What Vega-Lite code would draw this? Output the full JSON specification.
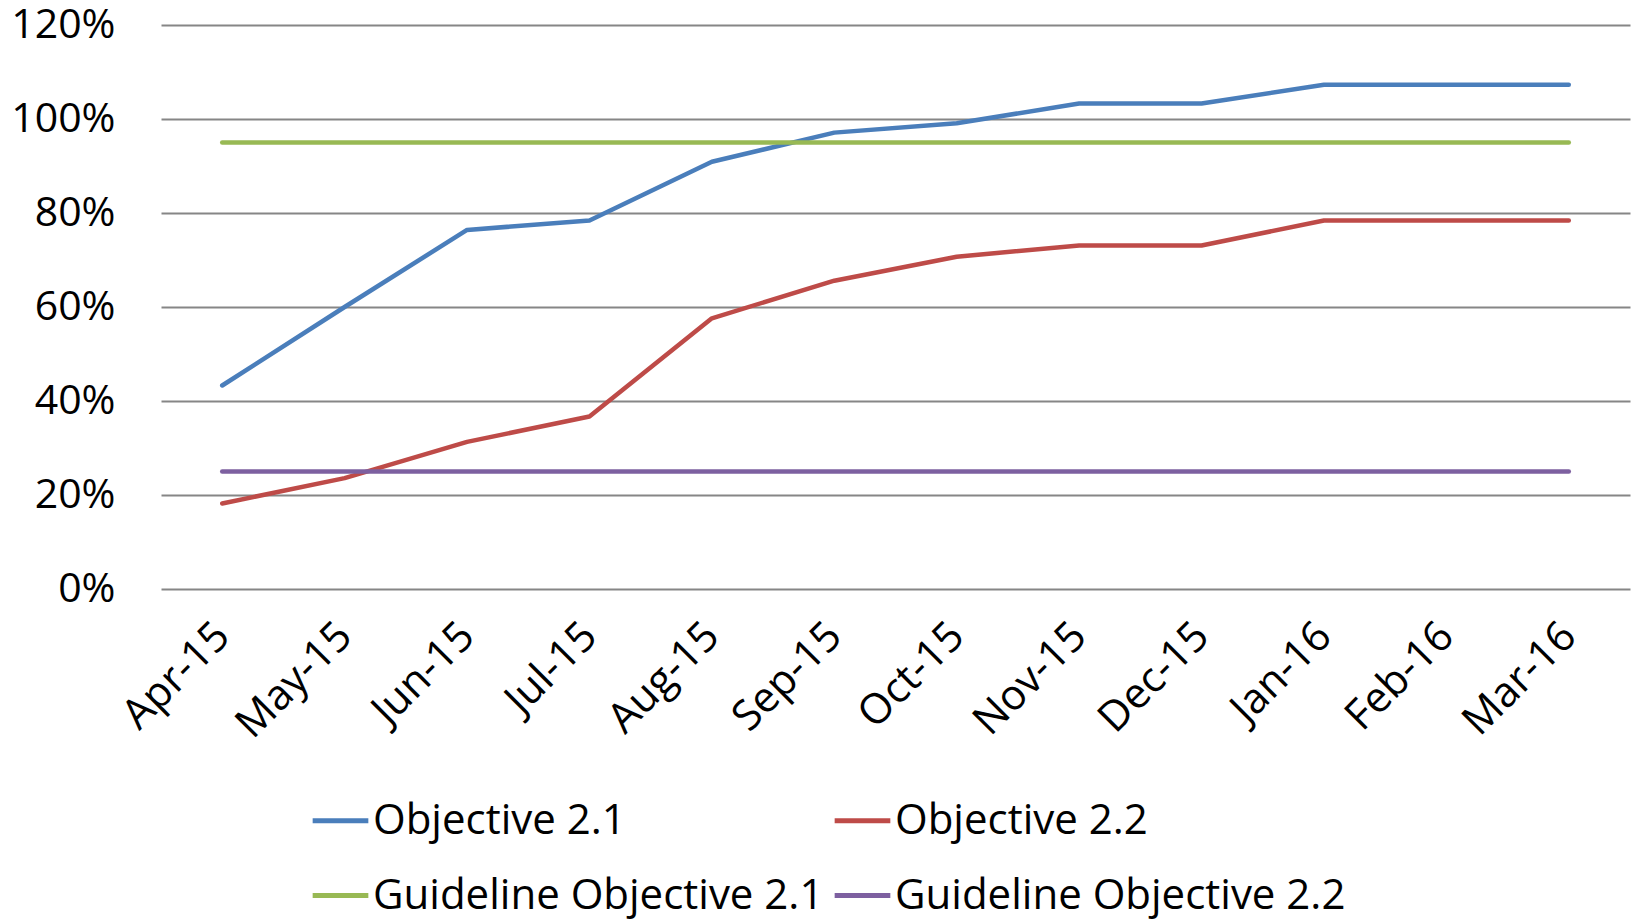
{
  "$schema": "https://vega.github.io/schema/vega-lite/v6.json",
  "width": 1469,
  "height": 564,
  "autosize": {"type": "none"},
  "padding": {"left": 161, "top": 25, "right": 7, "bottom": 331},
  "background": "white",
  "config": {
    "font": "Open Sans",
    "view": {"stroke": null}
  },
  "data": {
    "values": [
      {"month": "Apr-15", "series": "Objective 2.1", "value": 0.433},
      {"month": "May-15", "series": "Objective 2.1", "value": 0.60},
      {"month": "Jun-15", "series": "Objective 2.1", "value": 0.764},
      {"month": "Jul-15", "series": "Objective 2.1", "value": 0.784},
      {"month": "Aug-15", "series": "Objective 2.1", "value": 0.909},
      {"month": "Sep-15", "series": "Objective 2.1", "value": 0.971},
      {"month": "Oct-15", "series": "Objective 2.1", "value": 0.991},
      {"month": "Nov-15", "series": "Objective 2.1", "value": 1.033},
      {"month": "Dec-15", "series": "Objective 2.1", "value": 1.033},
      {"month": "Jan-16", "series": "Objective 2.1", "value": 1.073},
      {"month": "Feb-16", "series": "Objective 2.1", "value": 1.073},
      {"month": "Mar-16", "series": "Objective 2.1", "value": 1.073},
      {"month": "Apr-15", "series": "Objective 2.2", "value": 0.182},
      {"month": "May-15", "series": "Objective 2.2", "value": 0.236},
      {"month": "Jun-15", "series": "Objective 2.2", "value": 0.313},
      {"month": "Jul-15", "series": "Objective 2.2", "value": 0.367},
      {"month": "Aug-15", "series": "Objective 2.2", "value": 0.576},
      {"month": "Sep-15", "series": "Objective 2.2", "value": 0.656},
      {"month": "Oct-15", "series": "Objective 2.2", "value": 0.707},
      {"month": "Nov-15", "series": "Objective 2.2", "value": 0.731},
      {"month": "Dec-15", "series": "Objective 2.2", "value": 0.731},
      {"month": "Jan-16", "series": "Objective 2.2", "value": 0.784},
      {"month": "Feb-16", "series": "Objective 2.2", "value": 0.784},
      {"month": "Mar-16", "series": "Objective 2.2", "value": 0.784},
      {"month": "Apr-15", "series": "Guideline Objective 2.1", "value": 0.95},
      {"month": "May-15", "series": "Guideline Objective 2.1", "value": 0.95},
      {"month": "Jun-15", "series": "Guideline Objective 2.1", "value": 0.95},
      {"month": "Jul-15", "series": "Guideline Objective 2.1", "value": 0.95},
      {"month": "Aug-15", "series": "Guideline Objective 2.1", "value": 0.95},
      {"month": "Sep-15", "series": "Guideline Objective 2.1", "value": 0.95},
      {"month": "Oct-15", "series": "Guideline Objective 2.1", "value": 0.95},
      {"month": "Nov-15", "series": "Guideline Objective 2.1", "value": 0.95},
      {"month": "Dec-15", "series": "Guideline Objective 2.1", "value": 0.95},
      {"month": "Jan-16", "series": "Guideline Objective 2.1", "value": 0.95},
      {"month": "Feb-16", "series": "Guideline Objective 2.1", "value": 0.95},
      {"month": "Mar-16", "series": "Guideline Objective 2.1", "value": 0.95},
      {"month": "Apr-15", "series": "Guideline Objective 2.2", "value": 0.25},
      {"month": "May-15", "series": "Guideline Objective 2.2", "value": 0.25},
      {"month": "Jun-15", "series": "Guideline Objective 2.2", "value": 0.25},
      {"month": "Jul-15", "series": "Guideline Objective 2.2", "value": 0.25},
      {"month": "Aug-15", "series": "Guideline Objective 2.2", "value": 0.25},
      {"month": "Sep-15", "series": "Guideline Objective 2.2", "value": 0.25},
      {"month": "Oct-15", "series": "Guideline Objective 2.2", "value": 0.25},
      {"month": "Nov-15", "series": "Guideline Objective 2.2", "value": 0.25},
      {"month": "Dec-15", "series": "Guideline Objective 2.2", "value": 0.25},
      {"month": "Jan-16", "series": "Guideline Objective 2.2", "value": 0.25},
      {"month": "Feb-16", "series": "Guideline Objective 2.2", "value": 0.25},
      {"month": "Mar-16", "series": "Guideline Objective 2.2", "value": 0.25}
    ]
  },
  "mark": {"type": "line", "strokeWidth": 4.5, "strokeCap": "round", "strokeJoin": "round"},
  "encoding": {
    "x": {
      "field": "month",
      "type": "ordinal",
      "sort": null,
      "scale": {"type": "point", "padding": 0.5},
      "axis": {
        "title": null,
        "domain": false,
        "ticks": false,
        "grid": false,
        "labelAngle": -45,
        "labelAlign": "right",
        "labelBaseline": "middle",
        "labelFontSize": 42,
        "labelColor": "black",
        "labelPadding": 40
      }
    },
    "y": {
      "field": "value",
      "type": "quantitative",
      "scale": {"domain": [0, 1.2], "nice": false, "zero": true},
      "axis": {
        "title": null,
        "values": [0, 0.2, 0.4, 0.6, 0.8, 1.0, 1.2],
        "format": ".0%",
        "domain": false,
        "ticks": false,
        "grid": true,
        "gridColor": "#868686",
        "gridWidth": 2,
        "labelFontSize": 41,
        "labelColor": "black",
        "labelPadding": 46
      }
    },
    "color": {
      "field": "series",
      "type": "nominal",
      "sort": ["Objective 2.1", "Objective 2.2", "Guideline Objective 2.1", "Guideline Objective 2.2"],
      "scale": {
        "domain": ["Objective 2.1", "Objective 2.2", "Guideline Objective 2.1", "Guideline Objective 2.2"],
        "range": ["#4A7EBB", "#BE4B48", "#98B954", "#7D60A0"]
      },
      "legend": {
        "title": null,
        "orient": "none",
        "direction": "horizontal",
        "legendX": 149,
        "legendY": 765,
        "columns": 2,
        "columnPadding": 0,
        "rowPadding": 23,
        "symbolType": "stroke",
        "symbolSize": 3100,
        "symbolStrokeWidth": 5,
        "labelFontSize": 42,
        "labelColor": "black",
        "labelOffset": 2,
        "labelLimit": 600
      }
    }
  }
}
